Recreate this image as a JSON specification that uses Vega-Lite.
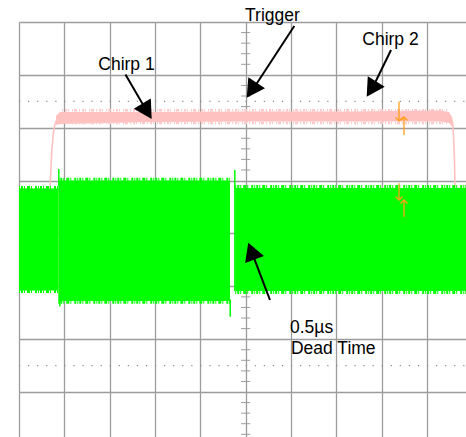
{
  "$schema": "https://vega.github.io/schema/vega-lite/v6.json",
  "width": 447,
  "height": 415,
  "autosize": {"type": "none"},
  "padding": {"left": 19, "top": 22, "right": 0, "bottom": 0},
  "background": "white",
  "config": {"view": {"stroke": null}},
  "datasets": {
    "ticks": [
      {"y": 0.2}, {"y": 0.4}, {"y": 0.6}, {"y": 0.8},
      {"y": 1.2}, {"y": 1.4}, {"y": 1.6}, {"y": 1.8},
      {"y": 2.2}, {"y": 2.4}, {"y": 2.6}, {"y": 2.8},
      {"y": 3.2}, {"y": 3.4}, {"y": 3.6}, {"y": 3.8},
      {"y": 4.2}, {"y": 4.4}, {"y": 4.6}, {"y": 4.8},
      {"y": 5.2}, {"y": 5.4}, {"y": 5.6}, {"y": 5.8},
      {"y": 6.2}, {"y": 6.4}, {"y": 6.6}, {"y": 6.8},
      {"y": 7.2}, {"y": 7.4}, {"y": 7.6}, {"y": 7.8}
    ],
    "dots": [{"y": 6.5}, {"y": 1.5}],
    "pinkline": [
      {"x": 0, "y": 4.841}, {"x": 0.684, "y": 4.841}, {"x": 0.702, "y": 5.2},
      {"x": 0.721, "y": 5.522}, {"x": 0.757, "y": 5.9}, {"x": 0.794, "y": 6.071},
      {"x": 0.838, "y": 6.156}, {"x": 0.942, "y": 6.203}, {"x": 9.486, "y": 6.203},
      {"x": 9.53, "y": 6.175}, {"x": 9.568, "y": 6.09}, {"x": 9.585, "y": 5.863},
      {"x": 9.607, "y": 5.39}, {"x": 9.618, "y": 4.86}, {"x": 9.861, "y": 4.841}
    ],
    "pinkband": [
      {"x": 0.816, "y": 6.222, "y2": 6.052},
      {"x": 0.904, "y": 6.298, "y2": 6.071},
      {"x": 2.89, "y": 6.298, "y2": 6.109},
      {"x": 5.096, "y": 6.307, "y2": 6.118},
      {"x": 7.302, "y": 6.307, "y2": 6.118},
      {"x": 9.288, "y": 6.326, "y2": 6.118},
      {"x": 9.486, "y": 6.298, "y2": 6.09},
      {"x": 9.563, "y": 6.184, "y2": 6.014}
    ],
    "pinkfuzz": [
      {"x": 0.95, "x2": 9.45, "y": 6.33},
      {"x": 0.95, "x2": 9.45, "y": 6.09}
    ],
    "green": [
      {"x": 0, "x2": 0.867, "y": 4.851, "y2": 2.921},
      {"x": 0.867, "x2": 4.655, "y": 5.002, "y2": 2.722},
      {"x": 4.77, "x2": 9.861, "y": 4.86, "y2": 2.911}
    ],
    "greenfuzz": [
      {"x": 0, "x2": 0.867, "y": 4.87},
      {"x": 0, "x2": 0.867, "y": 2.902},
      {"x": 0.867, "x2": 4.655, "y": 5.025},
      {"x": 0.867, "x2": 4.655, "y": 2.7},
      {"x": 4.77, "x2": 9.861, "y": 4.889},
      {"x": 4.77, "x2": 9.861, "y": 2.883}
    ],
    "spikes": [
      {"x": 0.878, "y": 5.219, "y2": 4.9},
      {"x": 0.9, "y": 2.72, "y2": 2.62},
      {"x": 4.66, "y": 2.75, "y2": 2.426},
      {"x": 4.761, "y": 5.2, "y2": 2.911}
    ],
    "orange": [
      {"x": 8.383, "y": 6.493, "y2": 6.128, "a": 180},
      {"x": 8.493, "y": 5.863, "y2": 6.203, "a": 0},
      {"x": 8.383, "y": 4.949, "y2": 4.633, "a": 180},
      {"x": 8.493, "y": 4.317, "y2": 4.633, "a": 0}
    ],
    "shafts": [
      {"x": 2.349, "y": 7.007, "x2": 2.785, "y2": 6.364},
      {"x": 6.073, "y": 7.925, "x2": 5.202, "y2": 6.78},
      {"x": 8.207, "y": 7.471, "x2": 7.825, "y2": 6.798},
      {"x": 5.537, "y": 2.741, "x2": 5.162, "y2": 3.586}
    ],
    "heads": [
      {"x": 2.927, "y": 6.165, "a": 148.5},
      {"x": 5.023, "y": 6.568, "a": 213.6},
      {"x": 7.67, "y": 6.587, "a": 212.1},
      {"x": 5.058, "y": 3.825, "a": 339.7}
    ],
    "labels": [
      {"x": 4.986, "y": 8.025, "label": "Trigger"},
      {"x": 1.749, "y": 7.092, "label": "Chirp 1"},
      {"x": 7.573, "y": 7.565, "label": "Chirp 2"},
      {"x": 5.978, "y": 2.111, "label": "0.5µs"},
      {"x": 6.0, "y": 1.72, "label": "Dead Time"}
    ]
  },
  "encoding": {
    "y": {
      "field": "y", "type": "quantitative",
      "scale": {"domain": [0.149, 8], "nice": false, "zero": false},
      "axis": {"values": [1, 2, 3, 4, 5, 6, 7, 8], "grid": true, "gridColor": "#9c9c9c", "gridWidth": 1.3, "labels": false, "ticks": false, "domain": false, "title": null}
    }
  },
  "layer": [
    {
      "data": {"name": "ticks"},
      "mark": {"type": "rule", "color": "#9c9c9c", "strokeWidth": 1},
      "encoding": {
        "x": {"datum": 4.9, "type": "quantitative", "scale": {"domain": [0, 9.861], "nice": false, "zero": false}, "axis": {"values": [0, 1, 2, 3, 4, 5, 6, 7, 8, 9], "grid": true, "gridColor": "#9c9c9c", "gridWidth": 1.3, "labels": false, "ticks": false, "domain": false, "title": null}},
        "x2": {"datum": 5.1}
      }
    },
    {
      "data": {"name": "dots"},
      "mark": {"type": "rule", "color": "#8c8c8c", "strokeWidth": 1.2, "strokeDash": [1.2, 7.866]},
      "encoding": {
        "x": {"datum": 0, "type": "quantitative", "scale": {"domain": [0, 9.861], "nice": false, "zero": false}, "axis": {"values": [0, 1, 2, 3, 4, 5, 6, 7, 8, 9], "grid": true, "gridColor": "#9c9c9c", "gridWidth": 1.3, "labels": false, "ticks": false, "domain": false, "title": null}},
        "x2": {"datum": 9.861}
      }
    },
    {
      "data": {"name": "pinkline"},
      "mark": {"type": "line", "color": "#ffc0c0", "strokeWidth": 1.6},
      "encoding": {
        "x": {"field": "x", "type": "quantitative", "scale": {"domain": [0, 9.861], "nice": false, "zero": false}, "axis": {"values": [0, 1, 2, 3, 4, 5, 6, 7, 8, 9], "grid": true, "gridColor": "#9c9c9c", "gridWidth": 1.3, "labels": false, "ticks": false, "domain": false, "title": null}}
      }
    },
    {
      "data": {"name": "pinkband"},
      "mark": {"type": "area", "color": "#ffc0c0", "opacity": 1},
      "encoding": {
        "x": {"field": "x", "type": "quantitative", "scale": {"domain": [0, 9.861], "nice": false, "zero": false}, "axis": {"values": [0, 1, 2, 3, 4, 5, 6, 7, 8, 9], "grid": true, "gridColor": "#9c9c9c", "gridWidth": 1.3, "labels": false, "ticks": false, "domain": false, "title": null}},
        "y2": {"field": "y2"}
      }
    },
    {
      "data": {"name": "pinkfuzz"},
      "mark": {"type": "rule", "color": "#ffc8c8", "strokeWidth": 2.5, "strokeDash": [1, 2, 2, 1, 1, 3, 1, 1, 3, 2]},
      "encoding": {
        "x": {"field": "x", "type": "quantitative", "scale": {"domain": [0, 9.861], "nice": false, "zero": false}, "axis": {"values": [0, 1, 2, 3, 4, 5, 6, 7, 8, 9], "grid": true, "gridColor": "#9c9c9c", "gridWidth": 1.3, "labels": false, "ticks": false, "domain": false, "title": null}},
        "x2": {"field": "x2"}
      }
    },
    {
      "data": {"name": "green"},
      "mark": {"type": "rect", "color": "#00ff00"},
      "encoding": {
        "x": {"field": "x", "type": "quantitative", "scale": {"domain": [0, 9.861], "nice": false, "zero": false}, "axis": {"values": [0, 1, 2, 3, 4, 5, 6, 7, 8, 9], "grid": true, "gridColor": "#9c9c9c", "gridWidth": 1.3, "labels": false, "ticks": false, "domain": false, "title": null}},
        "x2": {"field": "x2"},
        "y2": {"field": "y2"}
      }
    },
    {
      "data": {"name": "greenfuzz"},
      "mark": {"type": "rule", "color": "#00ff00", "strokeWidth": 3, "strokeDash": [1, 1, 2, 1, 1, 2, 3, 1, 1, 3, 2, 1]},
      "encoding": {
        "x": {"field": "x", "type": "quantitative", "scale": {"domain": [0, 9.861], "nice": false, "zero": false}, "axis": {"values": [0, 1, 2, 3, 4, 5, 6, 7, 8, 9], "grid": true, "gridColor": "#9c9c9c", "gridWidth": 1.3, "labels": false, "ticks": false, "domain": false, "title": null}},
        "x2": {"field": "x2"}
      }
    },
    {
      "data": {"name": "spikes"},
      "mark": {"type": "rule", "color": "#00ff00", "strokeWidth": 1.5},
      "encoding": {
        "x": {"field": "x", "type": "quantitative", "scale": {"domain": [0, 9.861], "nice": false, "zero": false}, "axis": {"values": [0, 1, 2, 3, 4, 5, 6, 7, 8, 9], "grid": true, "gridColor": "#9c9c9c", "gridWidth": 1.3, "labels": false, "ticks": false, "domain": false, "title": null}},
        "y2": {"field": "y2"}
      }
    },
    {
      "data": {"name": "orange"},
      "mark": {"type": "rule", "color": "#ff9f1a", "strokeWidth": 1.3},
      "encoding": {
        "x": {"field": "x", "type": "quantitative", "scale": {"domain": [0, 9.861], "nice": false, "zero": false}, "axis": {"values": [0, 1, 2, 3, 4, 5, 6, 7, 8, 9], "grid": true, "gridColor": "#9c9c9c", "gridWidth": 1.3, "labels": false, "ticks": false, "domain": false, "title": null}},
        "y2": {"field": "y2"}
      }
    },
    {
      "data": {"name": "orange"},
      "mark": {"type": "point", "shape": "M-1,1L0,0L1,1", "filled": false, "stroke": "#ff9f1a", "strokeWidth": 1.3, "size": 49, "opacity": 1},
      "encoding": {
        "x": {"field": "x", "type": "quantitative", "scale": {"domain": [0, 9.861], "nice": false, "zero": false}, "axis": {"values": [0, 1, 2, 3, 4, 5, 6, 7, 8, 9], "grid": true, "gridColor": "#9c9c9c", "gridWidth": 1.3, "labels": false, "ticks": false, "domain": false, "title": null}},
        "y": {"field": "y2", "type": "quantitative"},
        "angle": {"field": "a", "type": "quantitative", "scale": null}
      }
    },
    {
      "data": {"name": "shafts"},
      "mark": {"type": "rule", "color": "black", "strokeWidth": 2},
      "encoding": {
        "x": {"field": "x", "type": "quantitative", "scale": {"domain": [0, 9.861], "nice": false, "zero": false}, "axis": {"values": [0, 1, 2, 3, 4, 5, 6, 7, 8, 9], "grid": true, "gridColor": "#9c9c9c", "gridWidth": 1.3, "labels": false, "ticks": false, "domain": false, "title": null}},
        "x2": {"field": "x2"},
        "y2": {"field": "y2"}
      }
    },
    {
      "data": {"name": "heads"},
      "mark": {"type": "point", "shape": "M0,0L-1,1.8L1,1.8Z", "filled": true, "color": "black", "size": 400, "opacity": 1, "strokeWidth": 0},
      "encoding": {
        "x": {"field": "x", "type": "quantitative", "scale": {"domain": [0, 9.861], "nice": false, "zero": false}, "axis": {"values": [0, 1, 2, 3, 4, 5, 6, 7, 8, 9], "grid": true, "gridColor": "#9c9c9c", "gridWidth": 1.3, "labels": false, "ticks": false, "domain": false, "title": null}},
        "angle": {"field": "a", "type": "quantitative", "scale": null}
      }
    },
    {
      "data": {"name": "labels"},
      "mark": {"type": "text", "align": "left", "baseline": "alphabetic", "font": "Liberation Sans", "fontSize": 17.5, "color": "black"},
      "encoding": {
        "x": {"field": "x", "type": "quantitative", "scale": {"domain": [0, 9.861], "nice": false, "zero": false}, "axis": {"values": [0, 1, 2, 3, 4, 5, 6, 7, 8, 9], "grid": true, "gridColor": "#9c9c9c", "gridWidth": 1.3, "labels": false, "ticks": false, "domain": false, "title": null}},
        "text": {"field": "label"}
      }
    }
  ]
}
